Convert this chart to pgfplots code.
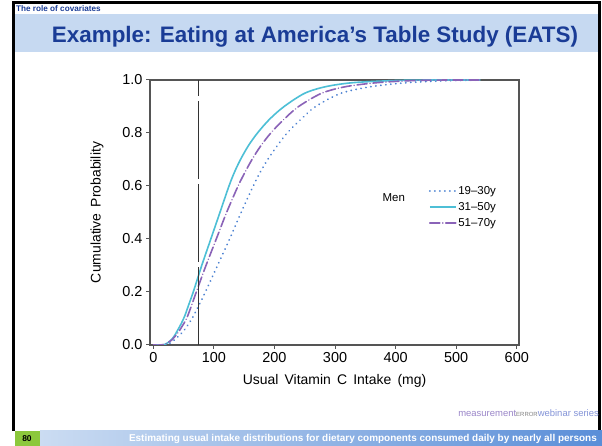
\documentclass[border=0pt]{standalone}
\usepackage{pgfplots}
\pgfplotsset{compat=1.18}
\usepackage{fontspec}
\setmainfont{Liberation Sans}
\definecolor{cyanc}{HTML}{4DBFD6}
\definecolor{purp}{HTML}{8A63B8}
\definecolor{dotb}{HTML}{4C82D2}
\definecolor{titleblue}{HTML}{1A3C96}
\definecolor{barblue}{HTML}{C6D9F1}
\definecolor{framegray}{HTML}{555555}
\definecolor{greenbox}{HTML}{8CC83C}
\definecolor{footL}{HTML}{CBDCF2}
\definecolor{footR}{HTML}{5A8ED8}
\definecolor{mpurple}{HTML}{9B87C9}
\definecolor{mblue}{HTML}{8494D8}

\begin{document}
\begin{tikzpicture}[x=1bp,y=1bp]
\useasboundingbox (0,0) rectangle (602,446);
\fill[white] (0,0) rectangle (602,446);
% slide frame
\fill[black] (12,15) rectangle (15,445);
\fill[black] (12,442) rectangle (601,445);
\fill[black] (598,15) rectangle (601,445);
% title bar
\fill[barblue] (15,394) rectangle (598,432);
\node[anchor=base west, inner sep=0, text=titleblue, font=\bfseries\fontsize{8.2}{9}\selectfont] at (16,434.5) {The role of covariates};
\node[anchor=base, inner sep=0, text=titleblue, font=\bfseries\fontsize{22.5}{24}\selectfont] at (315,403) {Example: Eating at America’s Table Study (EATS)};
% footer
\shade[left color=footL, right color=footR] (40,0) rectangle (602,15);
\fill[greenbox] (15,0) rectangle (40,15);
\node[anchor=center, inner sep=0, font=\bfseries\fontsize{8.5}{9}\selectfont] at (27,7.5) {80};
\node[anchor=east, inner sep=0, text=white, font=\bfseries\fontsize{10}{11}\selectfont] at (597,7.5) {Estimating usual intake distributions for dietary components consumed daily by nearly all persons};
\node[anchor=east, inner sep=0, font=\fontsize{9.5}{11}\selectfont] at (599,33) {\textcolor{mpurple}{measurement}{\fontsize{6}{6}\selectfont\textcolor{gray}{ERROR}}\textcolor{mblue}{webinar series}};

\begin{axis}[
  at={(150bp,101bp)}, anchor=south west,
  scale only axis, width=369bp, height=265bp,
  xmin=-5.4, xmax=603.7, ymin=0, ymax=1,
  axis line style={framegray, line width=1.2bp},
  xtick={0,100,200,300,400,500,600},
  ytick={0,0.2,0.4,0.6,0.8,1.0},
  tick align=outside, major tick length=4bp,
  tick style={framegray, line width=1bp},
  xtick pos=bottom, ytick pos=left,
  /pgf/number format/assume math mode=true,
  yticklabel style={/pgf/number format/fixed, /pgf/number format/fixed zerofill, /pgf/number format/precision=1},
  ticklabel style={font=\fontsize{14.5}{16}\selectfont},
  xlabel={Usual\, Vitamin\, C\, Intake\, (mg)},
  ylabel={Cumulative\, Probability},
  label style={font=\fontsize{14}{16}\selectfont},
  xlabel style={at={(axis description cs:0.5,-0.136)}, anchor=center},
  ylabel style={at={(axis description cs:-0.1436,0.5)}, anchor=center, rotate=0},
  legend style={at={(axis description cs:0.755,0.605)}, anchor=north west, draw=none, fill=none,
    font=\fontsize{11.5}{12}\selectfont, row sep=3.5bp, inner sep=0bp,
    nodes={inner sep=1.5bp}},
  legend cell align=left,
  legend image code/.code={\draw[#1] (0bp,0bp) -- (26bp,0bp);},
]
\addplot[dotb, line width=2bp, line cap=round, dash pattern=on 0.01bp off 5bp, smooth] coordinates {
(20,0) (30,0.01) (40,0.03) (49,0.05) (56,0.072) (64,0.1) (75,0.148) (86,0.2) (106,0.3) (126,0.4) (145,0.5) (165,0.6) (176,0.65) (189,0.7) (204,0.75) (221,0.8) (243,0.85) (268,0.9) (310,0.95) (360,0.975) (420,0.99) (480,0.997) (540,1)};
\addlegendentry{19–30y}
\addplot[cyanc, line width=1.6bp, smooth] coordinates {
(0,0) (14,0) (20,0.003) (25,0.01) (30,0.02) (35,0.035) (40,0.055) (46,0.08) (52,0.11) (59,0.155) (66,0.2) (80,0.3) (95,0.4) (110,0.5) (125,0.6) (134,0.652) (144,0.7) (157,0.752) (172,0.8) (192,0.852) (216,0.9) (250,0.95) (285,0.975) (330,0.99) (400,0.998) (460,1) (540,1)};
\addlegendentry{31–50y}
\addplot[purp, line width=1.6bp, line cap=round, dash pattern=on 10bp off 3bp on 0.01bp off 3bp, smooth] coordinates {
(0,0) (12,0) (20,0.004) (25,0.01) (30,0.018) (35,0.03) (42,0.05) (48,0.072) (55,0.1) (63,0.148) (71,0.2) (87,0.3) (104,0.4) (121,0.5) (140,0.6) (151,0.65) (163,0.7) (177,0.75) (194,0.8) (215,0.85) (240,0.9) (278,0.95) (318,0.975) (370,0.99) (430,0.998) (490,1) (540,1)};
\addlegendentry{51–70y}
\addplot[black!80, line width=1.2bp, dash pattern=on 78bp off 5bp, forget plot] coordinates {(75,0) (75,1)};
\node[font=\fontsize{11.5}{12}\selectfont, anchor=center] at (axis cs:397,0.558) {Men};
\end{axis}
\end{tikzpicture}
\end{document}
